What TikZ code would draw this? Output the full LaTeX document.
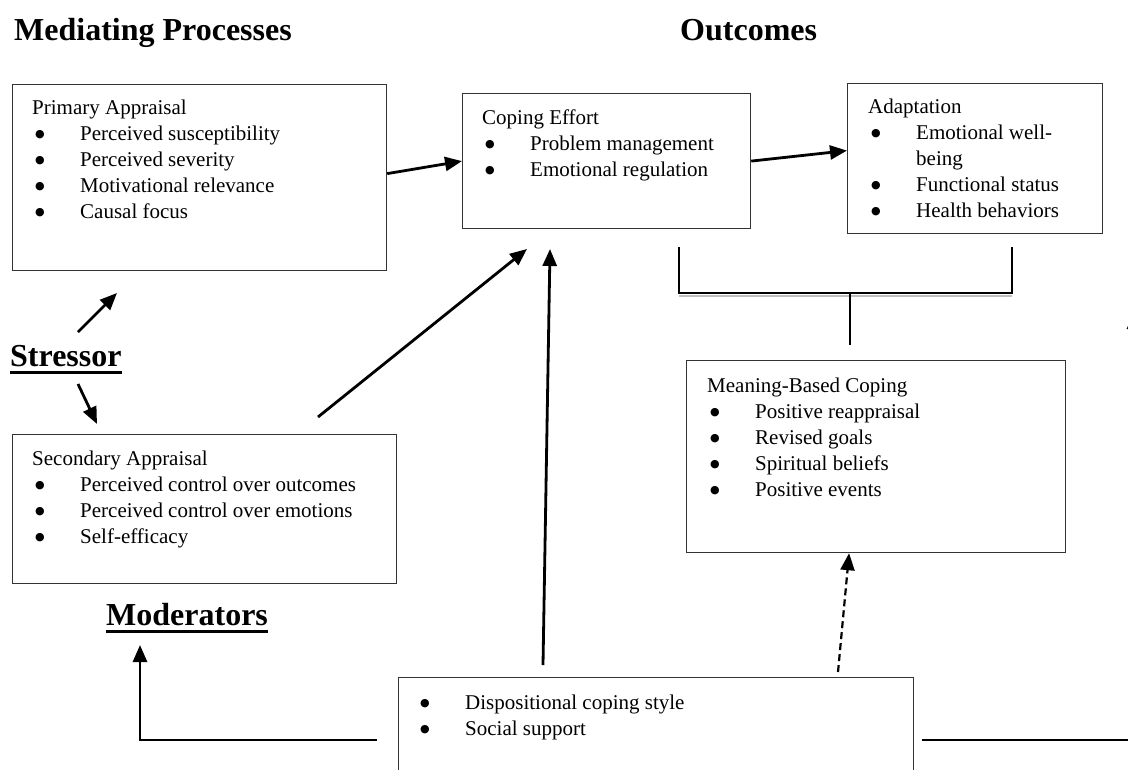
\documentclass[tikz,border=0pt]{standalone}
\usepackage{fontspec}
\setmainfont{Liberation Serif}
\newfontfamily\dotfont{DejaVu Sans}
\usetikzlibrary{arrows.meta}

\newcommand{\bigbullet}{\raisebox{2.5pt}{\dotfont\fontsize{11}{11}\selectfont ●}}
\newcommand{\itm}[1]{\hspace{3pt}\makebox[45pt][l]{\bigbullet}#1}
\newcommand{\boxlines}[1]{\begin{tabular}[t]{@{}l@{}}#1\end{tabular}}
\newcommand{\ulhead}[1]{\setbox0=\hbox{#1}\rlap{\vrule width\wd0 height -4.5pt depth 7.5pt}\box0}

\tikzset{
  box/.style={draw=black!80, line width=1.2pt, rectangle, inner sep=0pt, anchor=north west},
  boxtxt/.style={anchor=base west, inner sep=0pt, font=\fontsize{21}{26}\selectfont},
  head/.style={anchor=base west, inner sep=0pt, font=\fontsize{32}{38}\selectfont\bfseries},
  arr/.style={line width=2.8pt, -{Triangle[length=17pt,width=14pt]}},
  dasharr/.style={line width=2.2pt, dash pattern=on 7pt off 4pt, -{Triangle[length=17pt,width=14pt]}}
}

\begin{document}
\begin{tikzpicture}[x=1pt, y=-1pt]
  \useasboundingbox (0,0) rectangle (1128,769);
  \clip (0,0) rectangle (1128,769);

  % headings
  \node[head] (medhead) at (14,40) {Mediating Processes};
  \node[head] (outhead) at (680,40) {Outcomes};
  \node[head] (stressor) at (10,366) {\ulhead{Stressor}};
  \node[head] (moderators) at (106,625) {\ulhead{Moderators}};

  % boxes
  \node[box, minimum width=374pt, minimum height=186pt] (primary) at (12,84) {};
  \node[boxtxt] (primarytxt) at (32,114) {\boxlines{Primary Appraisal\\
    \itm{Perceived susceptibility}\\ \itm{Perceived severity}\\
    \itm{Motivational relevance}\\ \itm{Causal focus}}};

  \node[box, minimum width=288pt, minimum height=135pt] (coping) at (462,93) {};
  \node[boxtxt] (copingtxt) at (482,124) {\boxlines{Coping Effort\\
    \itm{Problem management}\\ \itm{Emotional regulation}}};

  \node[box, minimum width=255pt, minimum height=150pt] (adapt) at (847,83) {};
  \node[boxtxt] (adapttxt) at (868,113) {\boxlines{Adaptation\\
    \itm{Emotional well-}\\ \hspace{48pt}being\\
    \itm{Functional status}\\ \itm{Health behaviors}}};

  \node[box, minimum width=379pt, minimum height=192pt] (meaning) at (686,360) {};
  \node[boxtxt] (meaningtxt) at (707,392) {\boxlines{Meaning-Based Coping\\
    \itm{Positive reappraisal}\\ \itm{Revised goals}\\
    \itm{Spiritual beliefs}\\ \itm{Positive events}}};

  \node[box, minimum width=384pt, minimum height=149pt] (secondary) at (12,434) {};
  \node[boxtxt] (secondarytxt) at (32,465) {\boxlines{Secondary Appraisal\\
    \itm{Perceived control over outcomes}\\ \itm{Perceived control over emotions}\\
    \itm{Self-efficacy}}};

  \node[box, minimum width=515pt, minimum height=130pt] (dispo) at (398,677) {};
  \node[boxtxt] (dispotxt) at (417,709) {\boxlines{\itm{Dispositional coping style}\\
    \itm{Social support}}};

  % free arrow ends
  \coordinate (stressup) at (78,332);
  \coordinate (stressuptip) at (117,293);
  \coordinate (stressdown) at (78,384);
  \coordinate (stressdowntip) at (97,424);
  \coordinate (secfrom) at (318,417);
  \coordinate (secto) at (527,249);
  \coordinate (dispofrom) at (543,665);
  \coordinate (dispoto) at (550,249);
  \coordinate (dashfrom) at (838,672);
  \coordinate (modfrom) at (377,740);
  \coordinate (modcorner) at (140,740);
  \coordinate (modto) at (140,645);
  \coordinate (rightfrom) at (922,740);
  \coordinate (rightcorner) at (1134,740);
  \coordinate (rightto) at (1134,312);

  % arrows
  \draw[arr] ([yshift=4pt]primary.east) -- (coping.west);
  \draw[arr] (coping.east) -- ([yshift=8pt]adapt.west);
  \draw[arr] (stressup) -- (stressuptip);
  \draw[arr] (stressdown) -- (stressdowntip);
  \draw[arr] (secfrom) -- (secto);
  \draw[arr] (dispofrom) -- (dispoto);
  \draw[dasharr] (dashfrom) -- ([xshift=-27pt]meaning.south);
  \draw[arr] (modfrom) -- (modcorner) -- (modto);
  \draw[arr] (rightfrom) -- (rightcorner) -- (rightto);

  % bracket under the outcomes
  \draw[gray!50, line width=1.5pt] (679,296) -- (1012,296);
  \draw[line width=2pt] (679,247) -- (679,293) -- (1012,293) -- (1012,247);
  \draw[line width=2pt] (850,293) -- (850,345);
\end{tikzpicture}
\end{document}
